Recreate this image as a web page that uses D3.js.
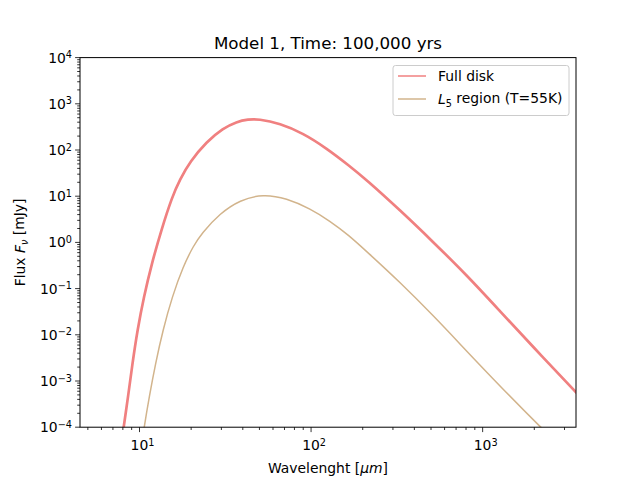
<!DOCTYPE html>
<html>
<head>
<meta charset="utf-8">
<script src="https://cdn.jsdelivr.net/npm/d3@7"></script>
<style>
  body { margin: 0; background: #fff; }
  svg { font-family: "DejaVu Sans", sans-serif; }
</style>
</head>
<body>
<div id="chart"></div>
<script>
// wavelengths [um] and fluxes [mJy]
const fullWave = [7.61, 8.09, 8.58, 9.10, 9.73, 10.6, 11.8, 13.4, 15.5, 17.2, 19.7, 24.6, 30.7, 36.8, 43.0, 49.2, 65.8, 89.9, 123, 165, 211, 329, 515, 806, 1260, 1970, 3493, 3710];
const fullFlux = [1.95e-5, 1.03e-4, 4.57e-4, 2.42e-3, 0.0127, 0.0668, 0.353, 1.85, 9.75, 23.0, 55.8, 151, 295, 410, 461, 469, 378, 230, 109, 47.3, 22.4, 5.02, 1.02, 0.197, 0.0327, 5.44e-3, 5.78e-4, 4.51e-4];

const l5Wave = [10.0, 10.65, 11.4, 12.4, 13.7, 15.5, 18.0, 20.6, 23.0, 29.4, 38.5, 52.6, 72.0, 98.4, 129, 165, 211, 329, 515, 806, 1260, 2154, 3710];
const l5Flux = [2.05e-5, 1.03e-4, 4.57e-4, 2.42e-3, 0.0127, 0.0668, 0.308, 0.836, 1.56, 4.23, 8.28, 11.2, 9.02, 5.42, 2.90, 1.45, 0.635, 0.139, 0.0262, 4.46e-3, 7.80e-4, 1.03e-4, 1.45e-5];

const seriesNames = ["Full disk", "L5 region (T=55K)"];
const seriesColors = ["#f08080", "#d2b48c"];

const xTicks = [10, 100, 1000];
const yTicks = [1e-4, 1e-3, 1e-2, 1e-1, 1, 10, 100, 1000, 10000];

const width = 640, height = 480;
const margin = { top: 57.6, right: 64, bottom: 52.8, left: 80 };

const svg = d3.select("#chart").append("svg")
    .attr("width", width)
    .attr("height", height);

const x = d3.scaleLog()
    .domain([4.5, 3500])
    .range([margin.left, width - margin.right]);

const y = d3.scaleLog()
    .domain([1e-4, 1e4])
    .range([height - margin.bottom, margin.top]);

svg.append("clipPath").attr("id", "clip")
  .append("rect")
    .attr("x", margin.left).attr("y", margin.top)
    .attr("width", width - margin.left - margin.right)
    .attr("height", height - margin.top - margin.bottom);

const line = d3.line()
    .x(d => x(d[0]))
    .y(d => y(d[1]))
    .curve(d3.curveBasis);

const plot = svg.append("g").attr("clip-path", "url(#clip)");

plot.append("path")
    .datum(d3.zip(fullWave, fullFlux))
    .attr("fill", "none")
    .attr("stroke", seriesColors[0])
    .attr("stroke-width", 2.7)
    .attr("d", line);

plot.append("path")
    .datum(d3.zip(l5Wave, l5Flux))
    .attr("fill", "none")
    .attr("stroke", seriesColors[1])
    .attr("stroke-width", 1.5)
    .attr("d", line);

// minor ticks
const minorX = [];
for (let e = 0; e <= 3; e++) for (let m = 2; m <= 9; m++) {
  const v = m * Math.pow(10, e);
  if (v >= 4.5 && v <= 3500) minorX.push(v);
}
const minorY = [];
for (let e = -4; e < 4; e++) for (let m = 2; m <= 9; m++) minorY.push(m * Math.pow(10, e));

const sup = (sel, d) => {
  const p = Math.round(Math.log10(d));
  sel.text("10");
  sel.append("tspan")
      .attr("dy", "-0.45em")
      .attr("font-size", "9.7px")
      .text(p < 0 ? "\u2212" + (-p) : p);
};

// x axis
const xAxis = svg.append("g")
    .attr("transform", `translate(0,${height - margin.bottom})`);
xAxis.selectAll(".minor").data(minorX).join("line")
    .attr("x1", d => x(d)).attr("x2", d => x(d))
    .attr("y1", 0).attr("y2", 2.8)
    .attr("stroke", "#000").attr("stroke-width", 0.8);
xAxis.selectAll(".major").data(xTicks).join("line")
    .attr("x1", d => x(d)).attr("x2", d => x(d))
    .attr("y1", 0).attr("y2", 4.9)
    .attr("stroke", "#000").attr("stroke-width", 0.8);
xAxis.selectAll("text").data(xTicks).join("text")
    .attr("x", d => x(d) + 3)
    .attr("y", 23)
    .attr("text-anchor", "middle")
    .attr("font-size", "13.9px")
    .each(function(d) { sup(d3.select(this), d); });

// y axis
const yAxis = svg.append("g")
    .attr("transform", `translate(${margin.left},0)`);
yAxis.selectAll(".minor").data(minorY).join("line")
    .attr("y1", d => y(d)).attr("y2", d => y(d))
    .attr("x1", 0).attr("x2", -2.8)
    .attr("stroke", "#000").attr("stroke-width", 0.8);
yAxis.selectAll(".major").data(yTicks).join("line")
    .attr("y1", d => y(d)).attr("y2", d => y(d))
    .attr("x1", 0).attr("x2", -4.9)
    .attr("stroke", "#000").attr("stroke-width", 0.8);
yAxis.selectAll("text").data(yTicks).join("text")
    .attr("x", -8)
    .attr("y", d => y(d) + 5)
    .attr("text-anchor", "end")
    .attr("font-size", "13.9px")
    .each(function(d) { sup(d3.select(this), d); });

// frame
svg.append("rect")
    .attr("x", margin.left).attr("y", margin.top)
    .attr("width", width - margin.left - margin.right)
    .attr("height", height - margin.top - margin.bottom)
    .attr("fill", "none").attr("stroke", "#000").attr("stroke-width", 1);

// title and labels
svg.append("text")
    .attr("x", (margin.left + width - margin.right) / 2)
    .attr("y", 49)
    .attr("text-anchor", "middle")
    .attr("font-size", "16.7px")
    .text("Model 1, Time: 100,000 yrs");

const xl = svg.append("text")
    .attr("x", (margin.left + width - margin.right) / 2)
    .attr("y", 473)
    .attr("text-anchor", "middle")
    .attr("font-size", "13.9px")
    .text("Wavelenght [");
xl.append("tspan").attr("font-style", "italic").text("\u03bcm");
xl.append("tspan").text("]");

const yl = svg.append("text")
    .attr("transform", `translate(25,${(margin.top + height - margin.bottom) / 2}) rotate(-90)`)
    .attr("text-anchor", "middle")
    .attr("font-size", "13.9px")
    .text("Flux ");
yl.append("tspan").attr("font-style", "italic").text("F");
yl.append("tspan").attr("font-style", "italic").attr("font-size", "9.7px").attr("dy", "0.3em").text("\u03bd");
yl.append("tspan").attr("dy", "-0.3em").text(" [mJy]");

// legend
const lg = svg.append("g");
lg.append("rect")
    .attr("x", 393).attr("y", 65.5)
    .attr("width", 176).attr("height", 50)
    .attr("rx", 2.5)
    .attr("fill", "#fff").attr("fill-opacity", 0.8)
    .attr("stroke", "#cccccc").attr("stroke-width", 1);

seriesNames.forEach((name, i) => {
  const yy = 76 + i * 23;
  lg.append("line")
      .attr("x1", 398).attr("x2", 426)
      .attr("y1", yy).attr("y2", yy)
      .attr("stroke", seriesColors[i]).attr("stroke-width", 1.5);
  const t = lg.append("text")
      .attr("x", 438).attr("y", yy + 5)
      .attr("font-size", "13.9px");
  if (i === 0) {
    t.text(name);
  } else {
    t.append("tspan").attr("font-style", "italic").text("L");
    t.append("tspan").attr("font-size", "9.7px").attr("dy", "0.3em").text("5");
    t.append("tspan").attr("dy", "-0.3em").text(" region (T=55K)");
  }
});
</script>
</body>
</html>
